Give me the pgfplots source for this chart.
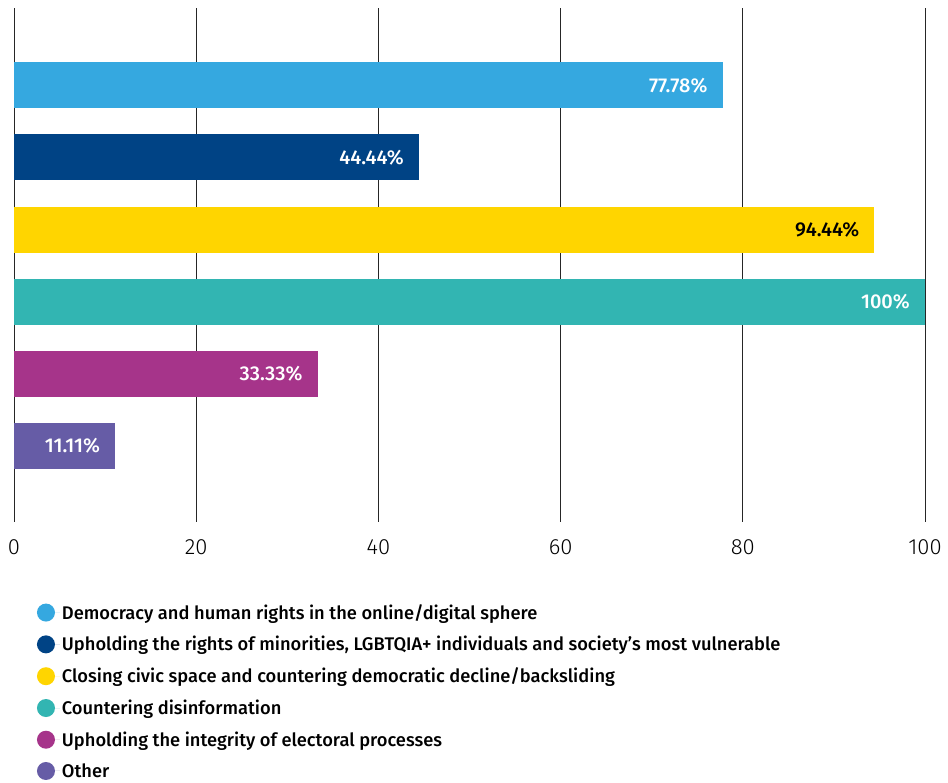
\documentclass[border=0pt]{standalone}
\usepackage{fontspec}
\setmainfont{Fira Sans}
\newfontfamily\medfont{Fira Sans Medium}
\newfontfamily\lightfont{Fira Sans Light}
\usepackage{pgfplots}
\pgfplotsset{compat=1.18}
\definecolor{c1}{HTML}{35A8E0}
\definecolor{c2}{HTML}{004385}
\definecolor{c3}{HTML}{FFD500}
\definecolor{c4}{HTML}{32B5B2}
\definecolor{c5}{HTML}{A6348A}
\definecolor{c6}{HTML}{665CA6}
\begin{document}
\begin{tikzpicture}
\begin{axis}[
  at={(14pt,261pt)}, anchor=south west,
  scale only axis, width=911pt, height=514pt,
  xbar, bar shift=0pt, bar width=46pt,
  xmin=0, xmax=100, ymin=-1.05, ymax=6.07,
  xtick={0,20,40,60,80,100}, ytick=\empty,
  xmajorgrids, grid style={line width=1pt, color=black!85},
  axis line style={draw=none}, major tick length=0pt,
  /pgf/number format/assume math mode=true,
  xticklabel style={font=\lightfont\fontsize{22}{22}\selectfont, yshift=-14pt},
  point meta=explicit symbolic,
  nodes near coords,
  every node near coord/.append style={anchor=east, inner sep=0pt, xshift=-15pt, font=\medfont\fontsize{20}{20}\selectfont, color=white},
  legend image code/.code={\fill (0pt,0pt) circle (9pt); \path (0pt,0pt) -- (14pt,0pt);},
  legend style={draw=none, at={(0.025,-0.156)}, anchor=north west, font=\medfont\fontsize{18.3}{18.3}\selectfont, row sep=11.6pt, cells={anchor=west}, inner sep=0pt},
  legend cell align=left,
]
\addplot[fill=c1, draw=none] coordinates {(77.78,5) [77.78\%]};
\addplot[fill=c2, draw=none] coordinates {(44.44,4) [44.44\%]};
\addplot[fill=c3, draw=none, every node near coord/.append style={color=black}] coordinates {(94.44,3) [94.44\%]};
\addplot[fill=c4, draw=none] coordinates {(100,2) [100\%]};
\addplot[fill=c5, draw=none] coordinates {(33.33,1) [33.33\%]};
\addplot[fill=c6, draw=none] coordinates {(11.11,0) [11.11\%]};
\legend{Democracy and human rights in the online/digital sphere,
Upholding the rights of minorities{,} LGBTQIA+ individuals and society’s most vulnerable,
Closing civic space and countering democratic decline/backsliding,
Countering disinformation,
Upholding the integrity of electoral processes,
Other}
\end{axis}
\pgfresetboundingbox
\path[use as bounding box] (0,0) rectangle (948pt,783pt);
\end{tikzpicture}
\end{document}
